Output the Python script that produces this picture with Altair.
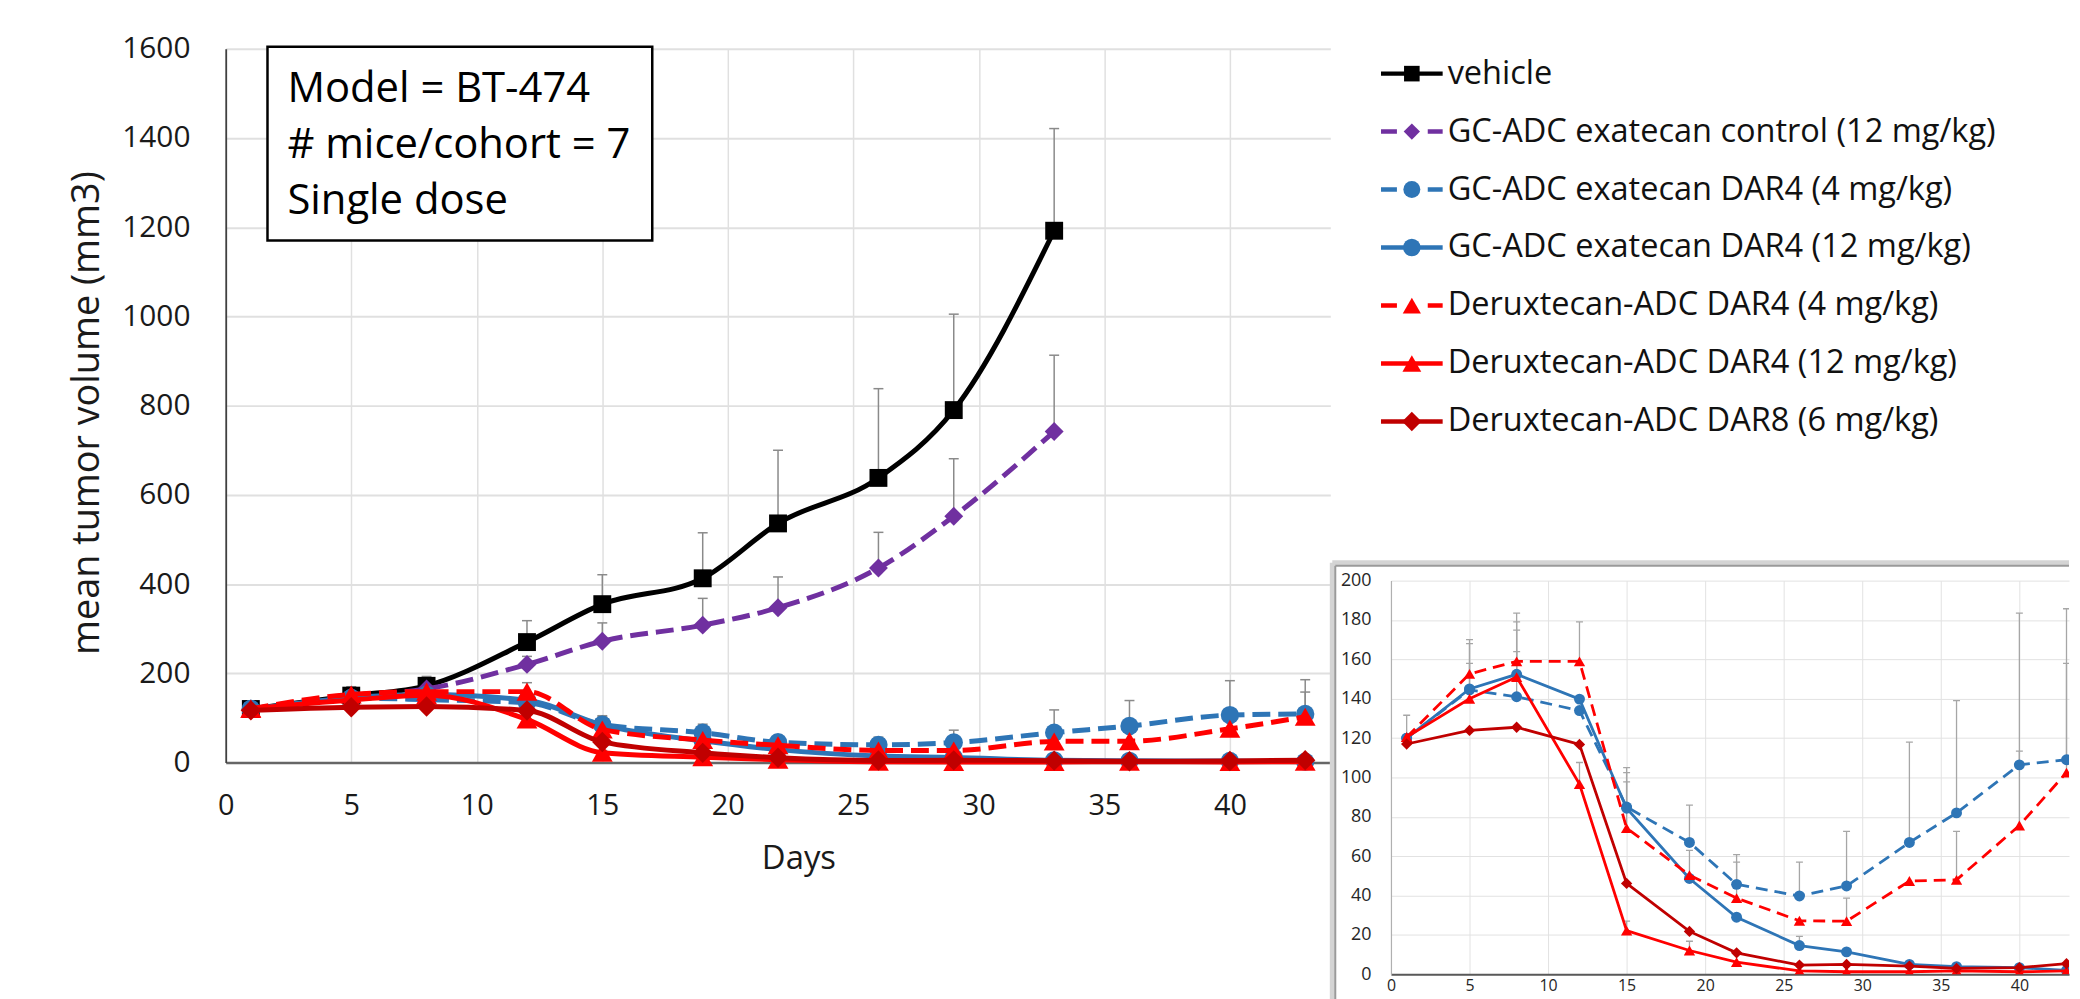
import altair as alt
import pandas as pd

# ---------------- data ----------------
DAYS = [1, 5, 8, 12, 15, 19, 22, 26, 29, 33, 36, 40, 43]

SERIES = [
    "vehicle",
    "GC-ADC exatecan control (12 mg/kg)",
    "GC-ADC exatecan DAR4 (4 mg/kg)",
    "GC-ADC exatecan DAR4 (12 mg/kg)",
    "Deruxtecan-ADC DAR4 (4 mg/kg)",
    "Deruxtecan-ADC DAR4 (12 mg/kg)",
    "Deruxtecan-ADC DAR8 (6 mg/kg)",
]
INSET_SERIES = SERIES[2:]

VEHICLE = [120, 150, 172, 270, 355, 413, 536, 638, 790, 1192]
VEHICLE_ERR = [None, 160, 193, 318, 421, 515, 700, 838, 1005, 1421]
GC_CONTROL = [118, 148, 165, 220, 272, 308, 347, 436, 552, 742]
GC_CONTROL_ERR = [None, None, 178, 238, 313, 368, 416, 516, 681, 913]
GC_DAR4_4 = [120, 144.5, 141, 134, 85, 67, 45.7, 39.8, 44.9, 67, 82, 106.4, 109]
GC_DAR4_4_ERR = [131.6, 170, 183.5, None, 105, 86, 60.8, 57, 72.6, 118, 139, 183.5, 185.7]
GC_DAR4_12 = [120, 145, 152.4, 139.8, 84.4, 48.7, 29, 14.6, 11.4, 5, 3.9, 3.4, 2]
GC_DAR4_12_ERR = [None, 158, 174.8, None, 97.8, None, None, 19.3, None, None, None, None, None]
DX_DAR4_4 = [120.5, 152.6, 159, 159, 74.3, 50.4, 38.7, 27.2, 27, 47.4, 48, 75.6, 102.5]
DX_DAR4_4_ERR = [None, 168, 179, 179, 102.5, 63, 57, None, 38.7, None, 72.6, 113.4, 158]
DX_DAR4_12 = [120.5, 140, 151, 96.6, 22.2, 12.1, 6.2, 1.7, 1.3, 1.3, 1.7, 1.3, 1.7]
DX_DAR4_12_ERR = [None, None, 163.9, 107.6, 27, 16.8, None, None, None, None, None, None, None]
DX_DAR8_6 = [117, 123.9, 125.5, 116.8, 46.2, 21.8, 10.9, 4.7, 5, 4.2, 3, 3.4, 5.4]
DX_DAR8_6_ERR = [None, None, None, None, None, None, None, None, None, None, None, None, None]

X_TICKS = [0, 5, 10, 15, 20, 25, 30, 35, 40]
Y_TICKS = [0, 200, 400, 600, 800, 1000, 1200, 1400, 1600]
X_TICKS_INSET = [0, 5, 10, 15, 20, 25, 30, 35, 40]
Y_TICKS_INSET = [0, 20, 40, 60, 80, 100, 120, 140, 160, 180, 200]

NOTE_LINES = ["Model = BT-474", "# mice/cohort = 7", "Single dose"]

# ---------------- styles ----------------
COLORS = ["#000000", "#7030A0", "#2E75B6", "#2E75B6", "#FF0000", "#FF0000", "#C00000"]
DASHED = [False, True, True, False, True, False, False]
SHAPES = ["square", "diamond", "circle", "circle", "triangle-up", "triangle-up", "diamond"]
MAIN_SIZES = [324, 361, 340, 340, 440, 440, 420]
INSET_SIZES = [110, 110, 121, 121, 130, 130, 130]
LEGEND_SIZES = [246, 380, 340, 340, 400, 400, 380]
LEG_DASH = [16, 31, 16, 100]
LEGEND_DASHES = [[1, 0], LEG_DASH, LEG_DASH, [1, 0], LEG_DASH, [1, 0], [1, 0]]
FONT = "Open Sans"

SERIES_VALUES = [VEHICLE, GC_CONTROL, GC_DAR4_4, GC_DAR4_12, DX_DAR4_4, DX_DAR4_12, DX_DAR8_6]
SERIES_ERRS = [VEHICLE_ERR, GC_CONTROL_ERR, GC_DAR4_4_ERR, GC_DAR4_12_ERR,
               DX_DAR4_4_ERR, DX_DAR4_12_ERR, DX_DAR8_6_ERR]

rows = []
for name, vals, errs in zip(SERIES, SERIES_VALUES, SERIES_ERRS):
    for d, v, e in zip(DAYS, vals, errs):
        rows.append({"series": name, "day": d, "value": v, "err": e})
df = pd.DataFrame(rows)

# ---------------- axes ----------------
AX_X_MAIN = alt.Axis(values=X_TICKS, title="Days", grid=True, gridColor="#e0e0e0", gridWidth=1.5,
                     domainColor="#666666", domainWidth=2.5, ticks=False, labelPadding=29,
                     labelFontSize=29, labelFont=FONT, labelColor="#1a1a1a", labelFlush=False,
                     titleFont=FONT, titleFontSize=33, titleFontWeight="normal", titleColor="#1a1a1a",
                     titleX=576, titleY=97, titleAlign="center", titleBaseline="middle")
AX_Y_MAIN = alt.Axis(values=Y_TICKS, format="d", title="mean tumor volume (mm3)", grid=True,
                     gridColor="#e0e0e0", gridWidth=2, domainColor="#404040", domainWidth=1.8,
                     ticks=False, labelPadding=36, labelFontSize=30, labelFont=FONT,
                     labelColor="#1a1a1a", labelFlush=False, titleFont=FONT, titleFontSize=38,
                     titleFontWeight="normal", titleColor="#1a1a1a", titleAngle=270, titleX=-139,
                     titleY=366, titleAlign="center", titleBaseline="middle")

AX_X_INSET = alt.Axis(values=X_TICKS_INSET, title=None, grid=True, gridColor="#e2e2e2", gridWidth=1,
                      domainColor="#595959", domainWidth=2, ticks=False, labelPadding=3,
                      labelFontSize=16, labelFont=FONT, labelColor="#262626", labelFlush=False)
AX_Y_INSET = alt.Axis(values=Y_TICKS_INSET, title=None, grid=True, gridColor="#e2e2e2", gridWidth=1,
                      domainColor="#b0b0b0", domainWidth=1.2, ticks=False, labelPadding=20,
                      labelFontSize=18, labelFont=FONT, labelColor="#262626", labelFlush=False)

W_MAIN, H_MAIN = 1111, 718
W_IN, H_IN = 682, 396


def xm(field):
    return alt.X(f"{field}:Q", scale=alt.Scale(domain=[0, 44], nice=False, zero=False), axis=AX_X_MAIN)


def ym(field):
    return alt.Y(f"{field}:Q", scale=alt.Scale(domain=[0, 1600], nice=False), axis=AX_Y_MAIN)


def xi(field):
    return alt.X(f"{field}:Q", scale=alt.Scale(domain=[0, 43.16], nice=False, zero=False), axis=AX_X_INSET)


def yi(field):
    return alt.Y(f"{field}:Q", scale=alt.Scale(domain=[0, 200], nice=False), axis=AX_Y_INSET)


def panel_layers(names, xf, yf, lw, dash, sizes, err_w, cap, err_color, interp, clip):
    layers = []
    for name in names:
        eb = alt.Chart(df).transform_filter(alt.datum.series == name).transform_filter("isValid(datum.err)")
        layers.append(eb.mark_rule(color=err_color, strokeWidth=err_w, clip=clip)
                      .encode(x=xf("day"), y=yf("value"), y2="err:Q"))
        layers.append(eb.mark_rule(color=err_color, strokeWidth=err_w, xOffset=-cap, x2Offset=cap, clip=clip)
                      .encode(x=xf("day"), x2="day:Q", y=yf("err")))
    for name in names:
        i = SERIES.index(name)
        base = alt.Chart(df).transform_filter(alt.datum.series == name)
        kw = dict(color=COLORS[i], strokeWidth=lw, interpolate=interp, clip=clip)
        if DASHED[i]:
            kw["strokeDash"] = dash
        layers.append(base.mark_line(**kw).encode(x=xf("day"), y=yf("value")))
        layers.append(base.mark_point(shape=SHAPES[i], filled=True, size=sizes[i], color=COLORS[i],
                                      opacity=1, strokeWidth=0, clip=clip)
                      .encode(x=xf("day"), y=yf("value")))
    return layers


one = alt.Data(values=[{}])

# ---------------- main panel ----------------
note_rect = alt.Chart(one).mark_rect(fill="white", stroke="black", strokeWidth=2.5).encode(
    x=alt.value(42), x2=alt.value(429), y=alt.value(-2), y2=alt.value(193))
note_texts = [
    alt.Chart(one).mark_text(align="left", baseline="alphabetic", font=FONT, fontSize=42,
                             color="black").encode(x=alt.value(62), y=alt.value(54 + 56 * k),
                                                   text=alt.value(line))
    for k, line in enumerate(NOTE_LINES)
]

main = alt.layer(
    *panel_layers(SERIES, xm, ym, 5, [18, 8], MAIN_SIZES, 1.5, 5, "#8a8a8a", "monotone", False),
    note_rect, *note_texts,
).properties(width=W_MAIN, height=H_MAIN)

# ---------------- legend ----------------
leg = alt.Chart(pd.DataFrame({"series": SERIES}))
ly = alt.Y("series:N", scale=alt.Scale(type="point", domain=SERIES, padding=0.43), axis=None)
lcolor = alt.Color("series:N", scale=alt.Scale(domain=SERIES, range=COLORS), legend=None)
ldash = alt.StrokeDash("series:N", scale=alt.Scale(domain=SERIES, range=LEGEND_DASHES), legend=None)
lshape = alt.Shape("series:N", scale=alt.Scale(domain=SERIES, range=SHAPES), legend=None)
lsize = alt.Size("series:N", scale=alt.Scale(domain=SERIES, range=LEGEND_SIZES), legend=None)

legend = alt.layer(
    leg.mark_rule(strokeWidth=4.5).encode(x=alt.value(-10), x2=alt.value(52), y=ly, color=lcolor,
                                          strokeDash=ldash),
    leg.mark_point(filled=True, opacity=1, strokeWidth=0).encode(x=alt.value(21), y=ly, color=lcolor,
                                                                 shape=lshape, size=lsize),
    leg.mark_text(align="left", baseline="middle", font=FONT, fontSize=32.7, color="#111111").encode(
        x=alt.value(57), y=ly, text="series:N"),
).properties(width=620, height=400)

# ---------------- inset ----------------
frame = [
    alt.Chart(one).mark_rule(color="#d4d4d4", strokeWidth=5).encode(
        x=alt.value(-59), x2=alt.value(W_IN), y=alt.value(-18)),
    alt.Chart(one).mark_rule(color="#d4d4d4", strokeWidth=5).encode(
        x=alt.value(-59), y=alt.value(-18), y2=alt.value(H_IN + 40)),
    alt.Chart(one).mark_rule(color="#9a9a9a", strokeWidth=2).encode(
        x=alt.value(-56), x2=alt.value(W_IN), y=alt.value(-15)),
    alt.Chart(one).mark_rule(color="#9a9a9a", strokeWidth=2).encode(
        x=alt.value(-56), y=alt.value(-15), y2=alt.value(H_IN + 40)),
]

inset = alt.layer(
    *frame,
    *panel_layers(INSET_SERIES, xi, yi, 2.8, [12, 7], INSET_SIZES, 1.3, 3.5, "#a6a6a6", "linear", True),
).properties(width=W_IN, height=H_IN)

right = alt.vconcat(legend, inset, spacing=135, bounds="flush")

chart = alt.hconcat(main, right, spacing=61, bounds="flush").properties(
    padding={"left": 60, "top": 22, "right": 0, "bottom": 0},
    background="white",
).configure_view(stroke="transparent")

chart.save("out.html", embed_options={"renderer": "svg", "actions": False})
